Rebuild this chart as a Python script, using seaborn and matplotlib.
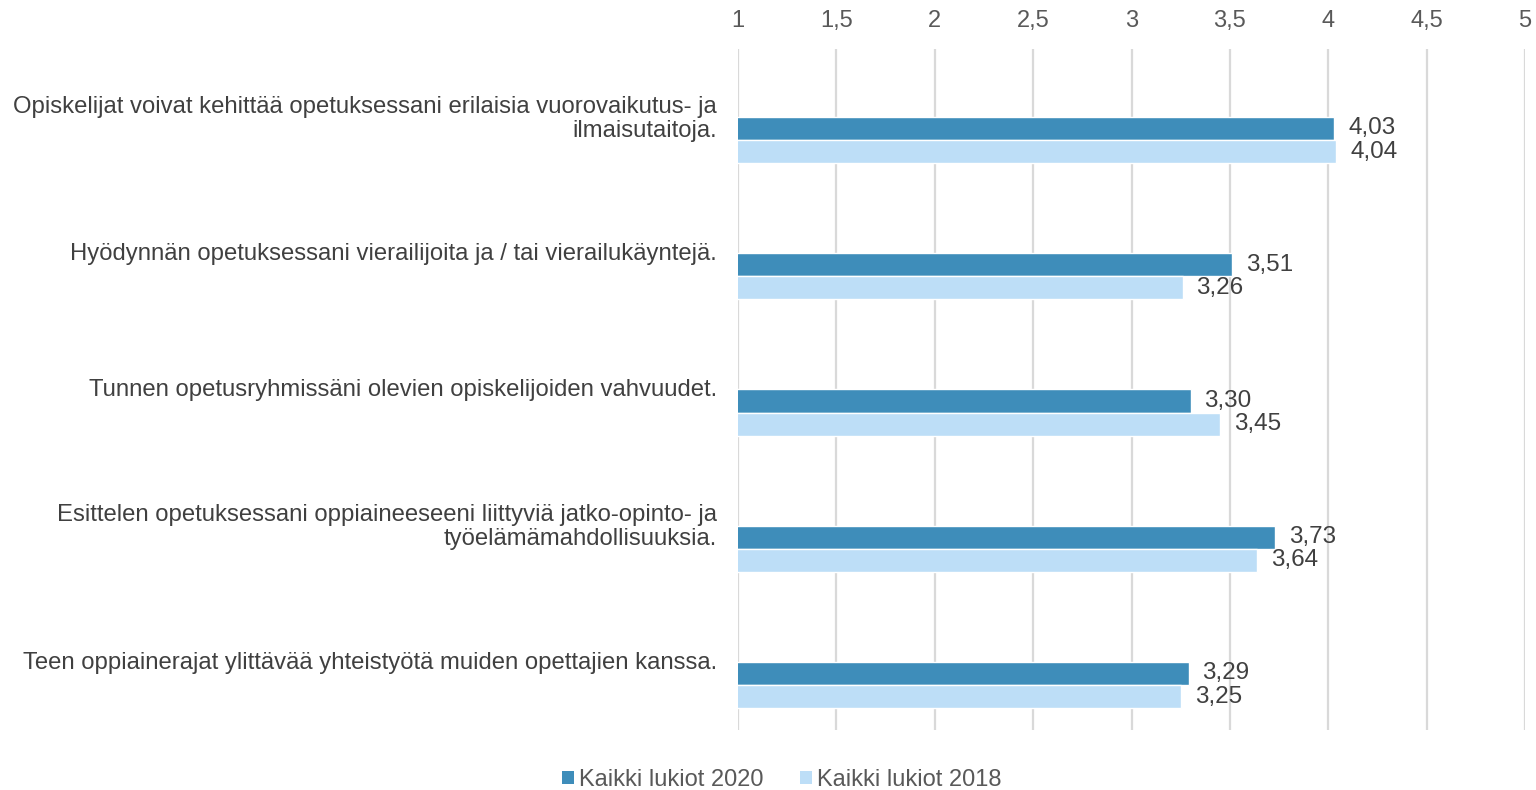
import pandas as pd
import matplotlib
matplotlib.use("Agg")
import matplotlib.pyplot as plt
import matplotlib.transforms as mtransforms
from matplotlib.patches import Patch
from matplotlib.ticker import FuncFormatter
import seaborn as sns

# Data
kysymykset = [
    "Opiskelijat voivat kehittää opetuksessani erilaisia vuorovaikutus- ja\nilmaisutaitoja.",
    "Hyödynnän opetuksessani vierailijoita ja / tai vierailukäyntejä.",
    "Tunnen opetusryhmissäni olevien opiskelijoiden vahvuudet.",
    "Esittelen opetuksessani oppiaineeseeni liittyviä jatko-opinto- ja\ntyöelämämahdollisuuksia.",
    "Teen oppiainerajat ylittävää yhteistyötä muiden opettajien kanssa.",
]
sarjat = ["Kaikki lukiot 2020", "Kaikki lukiot 2018"]
arvot_2020 = [4.03, 3.51, 3.30, 3.73, 3.29]
arvot_2018 = [4.04, 3.26, 3.45, 3.64, 3.25]
x_ticks = [1, 1.5, 2, 2.5, 3, 3.5, 4, 4.5, 5]

varit = ["#3E8DBA", "#BDDEF7"]

df = pd.DataFrame({
    "kysymys": kysymykset * 2,
    "sarja": [sarjat[0]] * 5 + [sarjat[1]] * 5,
    "arvo": arvot_2020 + arvot_2018,
})

sns.set_style("white")
plt.rcParams["font.family"] = ["Liberation Sans", "DejaVu Sans"]

fig = plt.figure(figsize=(15.36, 7.9), dpi=100)
ax = fig.add_axes([738 / 1536, 1 - 730 / 790, (1525 - 738) / 1536, (730 - 49) / 790])

sns.barplot(data=df, y="kysymys", x="arvo", hue="sarja", orient="h",
            palette=varit, width=0.34, gap=0, saturation=1, ax=ax, legend=False)

ax.set_xlim(1, 5)
ax.set_ylim(4.33, -0.668)
ax.set_xticks(x_ticks)
ax.xaxis.set_major_formatter(FuncFormatter(lambda v, p: f"{v:g}".replace(".", ",")))
ax.xaxis.tick_top()
ax.tick_params(axis="x", length=0, pad=12, labelsize=17, labelcolor="#595959")
ax.tick_params(axis="y", length=0, pad=15, labelsize=17.2, labelcolor="#404040")
ax.grid(axis="x", color="#D9D9D9", linewidth=1.6)
ax.set_axisbelow(True)
for s in ax.spines.values():
    s.set_visible(False)
ax.set_xlabel("")
ax.set_ylabel("")

# Excel-tyylinen kategoriatekstien sijoittelu hieman palkkien yläpuolelle
offset = mtransforms.ScaledTranslation(0, 25 / 100, fig.dpi_scale_trans)
for lab in ax.get_yticklabels():
    lab.set_horizontalalignment("right")
    lab.set_multialignment("right")
    lab.set_linespacing(1.12)
    lab.set_transform(lab.get_transform() + offset)

for cont in ax.containers:
    ax.bar_label(cont, fmt=lambda v: f"{v:.2f}".replace(".", ","),
                 padding=10, fontsize=17.5, color="#404040")

handles = [Patch(facecolor=c, edgecolor="none") for c in varit]
fig.legend(handles, sarjat, loc="lower center", ncol=2, frameon=False,
           fontsize=17, labelcolor="#595959", handlelength=0.51, handleheight=0.51,
           handletextpad=0.21, columnspacing=1.57, bbox_to_anchor=(0.509, -0.028))

fig.savefig("out.png", dpi=100)
